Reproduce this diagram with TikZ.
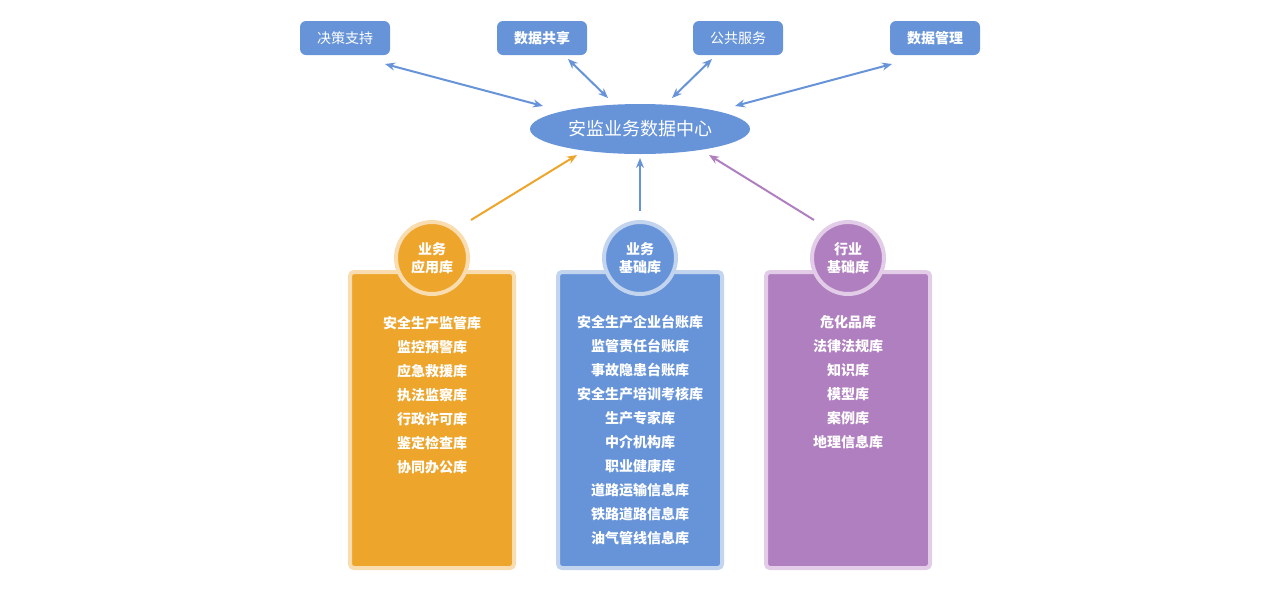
\documentclass[tikz,border=0pt]{standalone}
\usepackage{fontspec}
\setmainfont{Noto Sans CJK SC}
\usetikzlibrary{arrows.meta,shapes.geometric,calc}
\definecolor{cblue}{HTML}{6794D9}
\definecolor{cbluel}{HTML}{C3D4EF}
\definecolor{corange}{HTML}{EDA52B}
\definecolor{corangel}{HTML}{F9DDB0}
\definecolor{cpurple}{HTML}{B07FBF}
\definecolor{cpurplel}{HTML}{E2CCE8}
\begin{document}
\begin{tikzpicture}[x=1pt,y=-1pt,
  topbox/.style={fill=cblue,rounded corners=6pt,minimum width=90pt,minimum height=34pt,inner sep=0pt,text=white,font=\fontsize{14}{16}\selectfont},
  hub/.style={ellipse,fill=cblue,minimum width=220pt,minimum height=50pt,inner sep=0pt,text=white,font=\fontsize{18}{20}\selectfont},
  dbox/.style={draw=#1l,fill=#1,line width=4pt,rounded corners=4pt,minimum width=164pt,minimum height=296pt,inner sep=0pt},
  dcirc/.style={circle,draw=#1l,fill=#1,line width=4pt,minimum size=72pt,inner sep=0pt,text=white,align=center,font=\fontsize{14}{18}\selectfont\bfseries},
  dlist/.style={anchor=north,inner sep=0pt,text=white,align=center,font=\fontsize{14}{24}\selectfont\bfseries},
  link/.style={line width=2pt,draw=#1,-{Stealth[length=10pt,width=8pt]}},
  dlink/.style={line width=2pt,draw=cblue,{Stealth[length=10pt,width=8pt]}-{Stealth[length=10pt,width=8pt]}}]
\useasboundingbox (0,0) rectangle (1280,606);
\node[topbox] (t1) at (345,38) {决策支持};
\node[topbox,font=\fontsize{14}{16}\selectfont\bfseries] (t2) at (542,38) {数据共享};
\node[topbox] (t3) at (738,38) {公共服务};
\node[topbox,font=\fontsize{14}{16}\selectfont\bfseries] (t4) at (935,38) {数据管理};
\node[hub] (hub) at (640,129) {安监业务数据中心};

\coordinate (a1) at (385,64); \coordinate (h1) at (543,106);
\coordinate (a2) at (568,59); \coordinate (h2) at (608,98);
\coordinate (a3) at (712,59); \coordinate (h3) at (672,98);
\coordinate (a4) at (892,64); \coordinate (h4) at (735,106);
\draw[dlink] (a1) -- (h1);
\draw[dlink] (a2) -- (h2);
\draw[dlink] (a3) -- (h3);
\draw[dlink] (a4) -- (h4);

\node[dbox=corange] (b1) at (432,420) {};
\node[dbox=cblue] (b2) at (640,420) {};
\node[dbox=cpurple] (b3) at (848,420) {};
\node[dcirc=corange] (c1) at (432,258) {业务\\应用库};
\node[dcirc=cblue] (c2) at (640,258) {业务\\基础库};
\node[dcirc=cpurple] (c3) at (848,258) {行业\\基础库};

\coordinate (s1) at (471,220); \coordinate (e1) at (577,155);
\coordinate (s2) at (640,211); \coordinate (e2) at (640,158);
\coordinate (s3) at (814,220); \coordinate (e3) at (709,155);
\draw[link=corange] (s1) -- (e1);
\draw[link=cblue] (s2) -- (e2);
\draw[link=cpurple] (s3) -- (e3);

\node[dlist] (l1) at (432,316) {安全生产监管库\\监控预警库\\应急救援库\\执法监察库\\行政许可库\\鉴定检查库\\协同办公库};
\node[dlist] (l2) at (640,315) {安全生产企业台账库\\监管责任台账库\\事故隐患台账库\\安全生产培训考核库\\生产专家库\\中介机构库\\职业健康库\\道路运输信息库\\铁路道路信息库\\油气管线信息库};
\node[dlist] (l3) at (848,315) {危化品库\\法律法规库\\知识库\\模型库\\案例库\\地理信息库};
\end{tikzpicture}
\end{document}
